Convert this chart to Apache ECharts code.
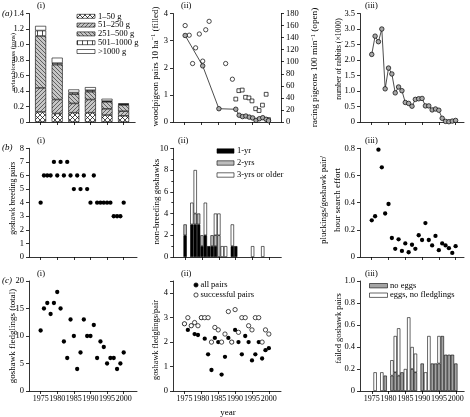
<!DOCTYPE html>
<html><head><meta charset="utf-8">
<script src="https://cdn.jsdelivr.net/npm/echarts@6/dist/echarts.min.js"></script>
<style>html,body{margin:0;padding:0;background:#fff;overflow:hidden}#c{width:470px;height:417px}</style>
</head><body><div id="c"></div>
<script>
// ---------------- data ----------------
const years = [1975,1976,1977,1978,1979,1980,1981,1982,1983,1984,1985,1986,1987,1988,1989,1990,1991,1992,1993,1994,1995,1996,1997,1998,1999,2000];
const yearTicks = [1975,1980,1985,1990,1995,2000];

// (a)(i) avian biomass (tons)
const biomassYears = [1975,1980,1985,1990,1995,2000];
const biomass1to50 = [0.13,0.11,0.12,0.12,0.09,0.08];
const biomass51to250 = [0.31,0.18,0.12,0.17,0.08,0.06];
const biomass251to500 = [0.67,0.45,0.12,0.10,0.09,0.08];
const biomass501to1000 = [0.07,0.02,0.02,0.02,0.01,0.01];
const biomassOver1000 = [0.06,0.07,0.04,0.04,0.03,0.01];

// (a)(ii) woodpigeons (filled) and racing pigeons (open)
const woodpigeonYears = [1975.2,1980.4,1985.2,1990.2,1991.2,1992.2,1993.2,1994.2,1995.2,1996.2,1997.2,1998.2,1999.2,1999.9];
const woodpigeonPairs = [3.19,2.07,0.49,0.47,0.25,0.20,0.22,0.18,0.15,0.06,0.12,0.16,0.10,0.05];
const racingCircleYears = [1975.2,1976.4,1977.4,1978.3,1979.4,1980.4,1981.3,1982.3,1987.2,1989.2];
const racingCircleValues = [160,144,97,123,146,101,153,167,97,71];
const racingSquareYears = [1990.2,1991.1,1992.1,1993.1,1994.1,1995.0,1996.1,1997.1,1998.1,1999.2,1999.9];
const racingSquareValues = [38,52,53,41,40,35,22,19,28,46,4];

// (a)(iii) rabbits (x1000)
const rabbits = [2.18,2.77,2.59,3.0,1.07,1.74,1.55,0.94,1.13,1.01,0.63,0.60,0.51,0.73,0.75,0.76,0.52,0.52,0.39,0.42,0.38,0.12,0.02,0.01,0.03,0.05];

// (b)(i) goshawk breeding pairs
const breedingPairs = [4,6,6,6,7,6,7,6,7,6,5,6,5,6,5,4,6,4,4,4,4,4,3,3,3,4];

// (b)(ii) non-breeding goshawks
const nonBreeding1yr = [2,0,3,3,3,1,2,1,1,1,0,0,0,0,1,1,0,0,0,0,0,0,0,0,0,0];
const nonBreeding2yr = [1,0,0,1,1,1,0,0,1,1,2,0,0,0,0,0,0,0,0,0,0,0,0,0,0,0];
const nonBreeding3yr = [0,0,2,4,0,0,3,0,0,2,2,1,1,0,2,0,0,0,0,0,1,0,0,1,0,0];

// (b)(iii) pluckings/goshawk pair/hour search effort
const pluckings = [0.27,0.30,0.79,0.66,0.32,0.39,0.14,0.06,0.13,0.045,0.10,0.035,0.09,0.06,0.16,0.125,0.25,0.125,0.085,0.155,0.05,0.10,0.085,0.065,0.03,0.08];

// (c)(i) goshawk fledglings (total)
const fledglingsTotal = [11,15,16,14,16,18,15,9,6,13,10,4,7,13,10,10,12,6,9,8,5,6,6,4,5,7];

// (c)(ii) goshawk fledglings/pair
const fledglingsAllPairs = [2.75,2.5,2.67,2.33,2.29,3.0,2.14,1.5,0.86,2.17,2.0,0.67,1.4,2.17,2.0,2.5,2.0,1.5,2.25,2.0,1.25,1.5,2.0,1.33,1.67,1.75];
const fledglingsSuccessful = [2.75,3.0,2.67,2.8,2.67,3.0,3.0,3.0,2.0,2.6,2.5,2.0,2.33,3.25,2.0,3.33,2.4,3.0,3.0,2.67,2.5,3.0,3.0,2.0,2.5,2.33];

// (c)(iii) failed goshawk pairs
const failedNoEggs = [0,0,0,0,0.14,0,0.14,0.17,0.14,0.17,0,0,0.2,0.17,0,0.25,0,0,0.25,0.25,0.25,0.5,0.33,0.33,0.33,0.25];
const failedEggsNoFledglings = [0,0.17,0,0.17,0,0,0.14,0.33,0.43,0,0.2,0.67,0.2,0.17,0,0,0.17,0.5,0,0,0.25,0,0,0,0,0];

// ---------------- helpers ----------------
const FONT = "'Liberation Serif','Times New Roman',serif";
const LBL = 8.5;
const XLBL = 8;

function pat(size, bg, draw) {
  const c = document.createElement('canvas'); c.width = size; c.height = size;
  const g = c.getContext('2d'); g.fillStyle = bg; g.fillRect(0,0,size,size);
  g.strokeStyle = '#000'; g.lineWidth = 0.7; draw(g, size);
  return {image: c, repeat: 'repeat'};
}
const pCross = pat(5, '#fff', (g,s)=>{g.beginPath();g.moveTo(0,0);g.lineTo(s,s);g.moveTo(s,0);g.lineTo(0,s);g.stroke();});
const pFwd = pat(4, '#c6c6c6', (g,s)=>{g.strokeStyle='#333';g.beginPath();g.moveTo(-1,s+1);g.lineTo(s+1,-1);g.moveTo(-1,1);g.lineTo(1,-1);g.moveTo(s-1,s+1);g.lineTo(s+1,s-1);g.stroke();});
const pBack = pat(4, '#c6c6c6', (g,s)=>{g.strokeStyle='#333';g.beginPath();g.moveTo(-1,-1);g.lineTo(s+1,s+1);g.moveTo(s-1,-1);g.lineTo(s+1,1);g.moveTo(-1,s-1);g.lineTo(1,s+1);g.stroke();});
const pVert = pat(5, '#fff', (g,s)=>{g.beginPath();g.moveTo(2.5,0);g.lineTo(2.5,s);g.stroke();});

const barCats1 = []; for (let y = 1972; y <= 2003; y++) barCats1.push(y);
const barCats2 = []; for (let y = 1972; y <= 2003; y++) barCats2.push(y);
const barCats3 = []; for (let y = 1972; y <= 2002; y++) barCats3.push(y);
function onCats(cats, xs, vals) {
  return cats.map(c => { const i = xs.indexOf(c); const v = i >= 0 ? vals[i] : 0; return v ? v : null; });
}
function pairs(xs, vals) { return xs.map((x,i)=>[x, vals[i]]); }

const axLine = {show:true, onZero:false, lineStyle:{color:'#000', width:0.8}};
const tickStyle = {color:'#000', width:0.8};
function xVal(grid, min, max, labels) {
  return {type:'value', gridIndex:grid, min, max, position:'bottom', axisLine: axLine,
    axisTick:{show:true, length:3, customValues: yearTicks, lineStyle: tickStyle},
    axisLabel:{show:labels, customValues: yearTicks, showMinLabel:true, showMaxLabel:true, hideOverlap:false,
      color:'#000', fontSize:XLBL, fontFamily:FONT, margin:4, formatter:v=>String(v)},
    splitLine:{show:false}};
}
function xCat(grid, cats, labels) {
  const f = (i, v) => (+v) % 5 === 0;
  return {type:'category', gridIndex:grid, data: cats, position:'bottom', boundaryGap:true, axisLine: axLine,
    axisTick:{show:true, length:3, alignWithLabel:true, interval:f, lineStyle: tickStyle},
    axisLabel:{show:labels, interval:f, hideOverlap:false, color:'#000', fontSize:XLBL, fontFamily:FONT, margin:4},
    splitLine:{show:false}};
}
const dec1 = v => v === 0 ? '0' : v.toFixed(1);
function yVal(grid, max, interval, fmt, extra) {
  const o = {type:'value', gridIndex:grid, min:0, max, interval, position:'left', axisLine: axLine,
    axisTick:{show:true, length:3, lineStyle: tickStyle},
    axisLabel:{color:'#000', fontSize:LBL, fontFamily:FONT, margin:5, showMinLabel:true, formatter: fmt || (v=>String(v))},
    splitLine:{show:false}};
  return Object.assign(o, extra || {});
}

// ---------------- layout ----------------
const C1 = 29, C2 = 173, C3 = 360;
const R1t = 13.5, R1h = 108.5, R2t = 148.3, R2h = 108.7, R3t = 281, R3h = 110;
const grids = [
  {left:C1, top:R1t, width:106.2, height:R1h},
  {left:C2, top:R1t, width:108, height:R1h},
  {left:C3, top:R1t, width:104, height:R1h},
  {left:C1, top:R2t, width:108, height:R2h},
  {left:C2+0.3, top:R2t, width:108, height:R2h},
  {left:C3, top:R2t, width:104, height:R2h},
  {left:C1, top:R3t, width:108, height:R3h},
  {left:C2, top:R3t, width:108, height:R3h},
  {left:C3, top:R3t, width:104.2, height:R3h}
].map(g => Object.assign({containLabel:false, outerBoundsMode:'none'}, g));
const xAxes = [
  xCat(0, barCats1, false), xVal(1, 1971.6, 2003.6, false), xVal(2, 1971.5, 2002.5, false),
  xVal(3, 1971.5, 2004, false), xCat(4, barCats2, false), xVal(5, 1971.5, 2002.5, false),
  xVal(6, 1971.5, 2004, true), xVal(7, 1971.6, 2003.6, true), xCat(8, barCats3, true)
];
const yAxes = [
  yVal(0, 1.4, 0.2, dec1), yVal(1, 4, 1), yVal(2, 3.5, 0.5, dec1), yVal(3, 8, 1),
  yVal(4, 10, 2, null, {minorTick:{show:true, splitNumber:2, length:2, lineStyle:tickStyle}}),
  yVal(5, 0.8, 0.2, dec1), yVal(6, 20, 5), yVal(7, 4.5, 1, v => (v % 1 === 0 ? String(v) : '')),
  yVal(8, 1.0, 0.2, dec1), yVal(1, 180, 20, null, {position:'right'})
];

// ---------------- series ----------------
const barBorder = {borderColor:'#000', borderWidth:0.6};
const openSym = {color:'#fff', borderColor:'#000', borderWidth:0.7, opacity:1};
const filledGray = {color:'#a8a8a8', borderColor:'#000', borderWidth:0.7, opacity:1};
const filledBlack = {color:'#000', opacity:1};
const series = [];
[[biomass1to50, pCross, '1–50 g'], [biomass51to250, pFwd, '51–250 g'], [biomass251to500, pBack, '251–500 g'],
 [biomass501to1000, pVert, '501–1000 g'], [biomassOver1000, '#fff', '>1000 g']].forEach(([arr, col, nm]) => {
  series.push({type:'bar', name:nm, xAxisIndex:0, yAxisIndex:0, stack:'bio', barWidth:11,
    data:onCats(barCats1, biomassYears, arr), itemStyle:Object.assign({color:col}, barBorder), silent:true});
});
series.push({type:'line', name:'woodpigeon', xAxisIndex:1, yAxisIndex:1, data:pairs(woodpigeonYears, woodpigeonPairs),
  symbol:'circle', symbolSize:4.5, showAllSymbol:true, lineStyle:{color:'#000', width:0.7},
  itemStyle:filledGray, z:3, silent:true});
series.push({type:'scatter', name:'racing circles', xAxisIndex:1, yAxisIndex:9, data:pairs(racingCircleYears, racingCircleValues),
  symbol:'circle', symbolSize:4.3, itemStyle:openSym, z:2, silent:true});
series.push({type:'scatter', name:'racing squares', xAxisIndex:1, yAxisIndex:9, data:pairs(racingSquareYears, racingSquareValues),
  symbol:'rect', symbolSize:3.8, itemStyle:openSym, z:2, silent:true});
series.push({type:'line', name:'rabbits', xAxisIndex:2, yAxisIndex:2, data:pairs(years, rabbits),
  symbol:'circle', symbolSize:4.5, showAllSymbol:true, lineStyle:{color:'#000', width:0.7},
  itemStyle:filledGray, silent:true});
series.push({type:'scatter', name:'pairs', xAxisIndex:3, yAxisIndex:3, data:pairs(years, breedingPairs),
  symbol:'circle', symbolSize:4.3, itemStyle:filledBlack, silent:true});
[[nonBreeding1yr, '#000', '1-yr'], [nonBreeding2yr, '#bdbdbd', '2-yrs'], [nonBreeding3yr, '#fff', '3-yrs or older']].forEach(([arr, col, nm]) => {
  series.push({type:'bar', name:nm, xAxisIndex:4, yAxisIndex:4, stack:'nb', barWidth:3.3,
    data:onCats(barCats2, years, arr), itemStyle:Object.assign({color:col}, barBorder), silent:true});
});
series.push({type:'scatter', name:'pluckings', xAxisIndex:5, yAxisIndex:5, data:pairs(years, pluckings),
  symbol:'circle', symbolSize:4.3, itemStyle:filledBlack, silent:true});
series.push({type:'scatter', name:'fledglings', xAxisIndex:6, yAxisIndex:6, data:pairs(years, fledglingsTotal),
  symbol:'circle', symbolSize:4.3, itemStyle:filledBlack, silent:true});
series.push({type:'scatter', name:'all pairs', xAxisIndex:7, yAxisIndex:7, data:pairs(years, fledglingsAllPairs),
  symbol:'circle', symbolSize:4.3, itemStyle:filledBlack, z:2, silent:true});
series.push({type:'scatter', name:'successful pairs', xAxisIndex:7, yAxisIndex:7, data:pairs(years, fledglingsSuccessful),
  symbol:'circle', symbolSize:4.3, itemStyle:openSym, z:3, silent:true});
[[failedNoEggs, '#a4a4a4', 'no eggs'], [failedEggsNoFledglings, '#fff', 'eggs, no fledglings']].forEach(([arr, col, nm]) => {
  series.push({type:'bar', name:nm, xAxisIndex:8, yAxisIndex:8, stack:'fail', barWidth:3.3,
    data:onCats(barCats3, years, arr), itemStyle:Object.assign({color:col}, barBorder), silent:true});
});

// ---------------- text & legends ----------------
const G = [];
function txt(x, y, s, opt) {
  G.push({type:'text', x, y, silent:true, z:100,
    style:Object.assign({text:s, fill:'#000', fontSize:8.5, fontFamily:FONT, align:'left', verticalAlign:'middle',
      textAlign:'left', textVerticalAlign:'middle'}, opt || {})});
}
function vtxt(x, y, s, size, rich) {
  const st = {text:s, fill:'#000', fontSize:size, fontFamily:FONT, align:'center', verticalAlign:'middle',
    textAlign:'center', textVerticalAlign:'middle'};
  if (rich) st.rich = {t:{fontSize:size, fontFamily:FONT, fill:'#000'}, s:{fontSize:size*0.68, fontFamily:FONT, fill:'#000', verticalAlign:'top'}};
  G.push({type:'text', x, y, rotation:Math.PI/2, silent:true, z:100, style:st});
}
function box(x, y, w, h, fill) {
  G.push({type:'rect', silent:true, z:100, shape:{x, y, width:w, height:h}, style:{fill, stroke:'#000', lineWidth:0.6}});
}
function dot(cx, cy, fill) {
  G.push({type:'circle', silent:true, z:100, shape:{cx, cy, r:2.1}, style:{fill, stroke:'#000', lineWidth:0.7}});
}
txt(2, 14, '(a)', {fontStyle:'italic', fontSize:9});
txt(2, 148, '(b)', {fontStyle:'italic', fontSize:9});
txt(2, 281, '(c)', {fontStyle:'italic', fontSize:9});
[[37,6,'(i)'],[181,6,'(ii)'],[365,6,'(iii)'],[37,141,'(i)'],[178,141,'(ii)'],[365,141,'(iii)'],
 [37,274,'(i)'],[181,274,'(ii)'],[365,274,'(iii)']].forEach(([x,y,s]) => txt(x, y, s, {fontSize:8.5}));
txt(228, 413, 'year', {align:'center', textAlign:'center', fontSize:9});

vtxt(13.3, 62, 'avian biomass (tons)', 7);
vtxt(155.3, 66.5, '{t|woodpigeon pairs 10 ha}{s|−1}{t| (filled)}', 9, true);
vtxt(315, 67.5, '{t|racing pigeons 100 min}{s|−1}{t| (open)}', 9.2, true);
vtxt(339, 59, 'number of rabbits (×1000)', 7.7);
vtxt(13, 198.3, 'goshawk breeding pairs', 7.7);
vtxt(156.5, 201.7, 'non-breeding goshawks', 9);
vtxt(324, 200, 'pluckings/goshawk pair/', 9);
vtxt(337.5, 200, 'hour search effort', 9);
vtxt(12.7, 336, 'goshawk fledglings (total)', 9);
vtxt(155.5, 340, 'goshawk fledglings/pair', 8.3);
vtxt(339, 328.3, 'failed goshawk pairs', 8.5);

const legA = [[pCross,'1–50 g'],[pFwd,'51–250 g'],[pBack,'251–500 g'],[pVert,'501–1000 g'],['#fff','>1000 g']];
legA.forEach(([f, s], i) => { const y = 16.3 + i*8.8; box(77, y-2, 18, 4, f); txt(98, y, s, {fontSize:8.5}); });
[['#000','1-yr'],['#bdbdbd','2-yrs'],['#fff','3-yrs or older']].forEach(([f, s], i) => {
  const y = 151 + i*12; box(217, y-2.2, 17, 4.4, f); txt(237, y, s, {fontSize:8.5}); });
dot(196, 285, '#000'); txt(200.5, 285, 'all pairs', {fontSize:8.5});
dot(196, 295, '#fff'); txt(200.5, 295, 'successful pairs', {fontSize:8.5});
[['#a4a4a4','no eggs'],['#fff','eggs, no fledglings']].forEach(([f, s], i) => {
  const y = 285.7 + i*9.5; box(369.5, y-2.2, 18, 4.4, f); txt(390, y, s, {fontSize:8.5}); });

const chart = echarts.init(document.getElementById('c'), null, {renderer:'canvas'});
chart.setOption({
  animation:false, backgroundColor:'#fff', textStyle:{fontFamily:FONT},
  grid: grids, xAxis: xAxes, yAxis: yAxes, series: series, graphic: {elements: G}
});
</script>
</body></html>
